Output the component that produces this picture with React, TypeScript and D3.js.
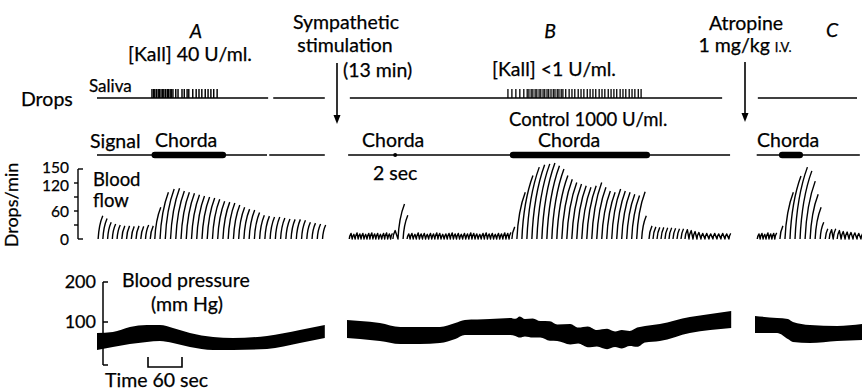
import React from 'react';
import * as d3 from 'd3';

const W = 862;
const H = 392;
const FONT = "Lato, 'Open Sans', sans-serif";

// ---- Records (time in s from the start of each record) ----
const recordA = { x0: 97, dur: 402 };
const recordB = { x0: 347, dur: 680 };
const recordC = { x0: 755, dur: 190 };

// Saliva drop times
const salivaA = [97, 100, 102, 105, 108, 110, 113, 116, 118, 121, 124, 126, 129, 131, 134, 139, 143, 150, 154, 159, 162, 169, 175, 180, 185, 191, 196, 201, 206, 212];
const salivaB = [284, 291, 298, 305, 312, 318, 321, 325, 328, 332, 335, 339, 342, 346, 349, 353, 356, 360, 364, 367, 371, 374, 378, 381, 386, 392, 397, 402, 408, 413, 418, 424, 429, 434, 439, 445, 450, 455, 461, 466, 471, 476, 482, 487, 492, 498, 503, 508, 514, 519];

// Chorda stimulation periods [start, end] (s)
const chordaA = [102, 222];
const chordaB = [293, 529];
const chordaBShort = 85;
const chordaC = [48, 79];

// Blood flow (drops/min), runs of evenly spaced drop-rate strokes
const flowA_rest = [50, 44, 36, 32, 30, 28, 28, 27, 28, 27, 30, 28];
const flowA_chorda = [68, 100, 107, 109, 103, 100, 98, 95, 92, 90, 88, 85, 81, 79, 77, 73, 68, 64, 62, 57, 51, 49, 47, 47, 45, 43, 42, 42, 40, 36, 34, 32, 30];
const flowB_rest1 = [12, 10, 13, 11, 12, 10, 12, 13, 11, 12, 10, 12, 13, 11, 12];
const flowB_short = [18, 75, 51];
const flowB_rest2 = [11, 12, 10, 13, 11, 12, 10, 12, 11, 13, 12, 10, 11, 12, 13, 11, 12, 10, 12, 11, 13, 12, 11, 10, 12, 13, 11, 12, 10, 12, 11, 13, 12, 14];
const flowB_chorda = [26, 100, 136, 154, 159, 161, 163, 157, 150, 136, 128, 121, 118, 114, 111, 114, 121, 111, 103, 100, 107, 103, 100, 96, 93, 101, 50];
const flowB_after = [28, 26, 25, 25, 24, 24, 23, 22, 22, 20, 18, 16, 14, 12, 12, 11, 12, 11, 12, 11, 12];
const flowC_rest = [11, 12, 10, 13, 11, 12, 13];
const flowC_chorda = [28, 100, 135, 154, 146, 124, 96, 68, 36];
const flowC_after = [22, 20, 22, 18, 16, 15, 14, 13, 12, 12];

// Blood pressure (mm Hg): sample times, systolic and diastolic
const bpA_t = [0, 28, 58, 88, 111, 134, 164, 205, 240, 300, 358, 402];
const bpA_sys = [72.5, 75, 87.5, 92.5, 92.5, 85, 72.5, 62.5, 60, 65, 80, 92.5];
const bpA_dia = [30, 37.5, 45, 50, 52.5, 47.5, 37.5, 30, 30, 32.5, 47.5, 60];
const bpB_t = [0, 23, 58, 94, 129, 164, 191, 208, 252, 288, 297, 305, 314, 328, 341, 358, 371, 394, 408, 425, 441, 459, 473, 485, 499, 512, 526, 552, 605, 641, 678];
const bpB_sys = [105, 102.5, 97.5, 87.5, 87.5, 87.5, 97.5, 105, 107.5, 110, 108, 114, 107.5, 109, 102.5, 102, 94, 95, 86, 89, 80, 83, 76, 80, 77.5, 86, 90, 95, 112.5, 120, 127.5];
const bpB_dia = [60, 57.5, 52.5, 45, 45, 47.5, 57.5, 67.5, 67.5, 67.5, 65, 61, 64, 61, 61, 53, 52.5, 44, 46, 37, 39, 32, 37.5, 34, 40, 38, 49, 52.5, 72.5, 80, 85];
const bpC_t = [0, 39, 58, 67, 97, 145, 189];
const bpC_sys = [115, 110, 107.5, 100, 92.5, 90, 95];
const bpC_dia = [72.5, 72.5, 57.5, 50, 47.5, 52.5, 55];

const flowTicks = [0, 30, 60, 90, 120, 150];
const flowTickLabels = [0, 60, 120, 150];
const bpTickLabels = [100, 200];

export default function App() {
  // 60 s of paper = 34 px
  const paper = d3.scaleLinear().domain([0, 60]).range([0, 34]);
  const xOf = (r: { x0: number; dur: number }) =>
    d3.scaleLinear().domain([0, r.dur]).range([r.x0, r.x0 + paper(r.dur)]);
  const xA = xOf(recordA);
  const xB = xOf(recordB);
  const xC = xOf(recordC);

  const yFlow = d3.scaleLinear().domain([0, 150]).range([239, 169]);
  const yBP = d3.scaleLinear().domain([0, 200]).range([362, 282]);

  const dropTop = 89;
  const dropBase = 98;
  const sigY = 155;

  // one run of drop-rate strokes spread evenly between t0 and t1
  const flowRun = (x: d3.ScaleLinear<number, number>, t0: number, t1: number, vals: number[]) => {
    const pos = d3.scaleLinear().domain([0, Math.max(1, vals.length - 1)]).range([x(t0), x(t1)]);
    const base = yFlow(0);
    let d = '';
    let prevH = 99;
    vals.forEach((v, i) => {
      const px = pos(i);
      const top = yFlow(v);
      const h = base - top;
      const s = h * 0.16 + 0.9;
      d += (i > 0 && prevH < 10 ? 'L' : 'M') + px.toFixed(2) + ',' + base.toFixed(2);
      d += 'Q' + (px + s * 0.15).toFixed(2) + ',' + (base - h * 0.6).toFixed(2) + ' ' + (px + s).toFixed(2) + ',' + top.toFixed(2);
      prevH = h;
    });
    return d;
  };

  const bpArea = (x: d3.ScaleLinear<number, number>, t: number[], sys: number[], dia: number[]) =>
    d3
      .area<number>()
      .x((i) => x(t[i]))
      .y0((i) => yBP(dia[i]))
      .y1((i) => yBP(sys[i]))
      .curve(d3.curveMonotoneX)(t.map((_, i) => i)) || '';

  const hline = (x: d3.ScaleLinear<number, number>, a: number, b: number, y: number, w = 1.3) => (
    <line x1={x(a)} x2={x(b)} y1={y} y2={y} stroke="#000" strokeWidth={w} />
  );

  const txt = { fontFamily: FONT, fontSize: 19.5, fill: '#000', stroke: '#000', strokeWidth: 0.25 } as const;

  // small nudges keep the crowded 150/120 labels apart
  const flowLabelNudge: Record<number, number> = { 150: -2, 120: 2, 60: 0, 0: 0 };

  return (
    <svg width={W} height={H} style={{ position: 'absolute', left: 0, top: 0, background: '#fff' }}>
      <rect width={W} height={H} fill="#fff" />

      {/* headings */}
      <text x={196} y={38} textAnchor="middle" {...txt} fontStyle="italic">A</text>
      <text x={190} y={61} textAnchor="middle" {...txt}>[Kall] 40 U/ml.</text>
      <text x={346} y={29} textAnchor="middle" {...txt}>Sympathetic</text>
      <text x={345} y={52} textAnchor="middle" {...txt}>stimulation</text>
      <text x={343} y={77} {...txt}>(13 min)</text>
      <text x={550} y={38} textAnchor="middle" {...txt} fontStyle="italic">B</text>
      <text x={554} y={76} textAnchor="middle" {...txt}>[Kall] &lt;1 U/ml.</text>
      <text x={746} y={30} textAnchor="middle" {...txt}>Atropine</text>
      <text x={745} y={52} textAnchor="middle" {...txt}>
        1 mg/kg <tspan fontSize={13}>I.V.</tspan>
      </text>
      <text x={832} y={37} textAnchor="middle" {...txt} fontStyle="italic">C</text>

      {/* arrows */}
      {[
        { x: 337, y0: 63, y1: 124 },
        { x: 745, y0: 62, y1: 122 },
      ].map((a, i) => (
        <g key={i}>
          <line x1={a.x} x2={a.x} y1={a.y0} y2={a.y1 - 6} stroke="#000" strokeWidth={1.6} />
          <path d={`M${a.x - 3.5},${a.y1 - 9}L${a.x + 3.5},${a.y1 - 9}L${a.x},${a.y1}Z`} fill="#000" />
        </g>
      ))}

      {/* saliva drops */}
      <text x={21} y={106} {...txt}>Drops</text>
      <text x={89} y={92} {...txt} fontSize={17}>Saliva</text>
      {hline(xA, 0, 302, dropBase)}
      {hline(xA, 311, 402, dropBase)}
      {hline(xB, 5, 662, dropBase)}
      {hline(xC, 5, 180, dropBase)}
      {salivaA.map((t, i) => (
        <line key={'sa' + i} x1={xA(t)} x2={xA(t)} y1={dropTop} y2={dropBase} stroke="#000" strokeWidth={1.45} />
      ))}
      {salivaB.map((t, i) => (
        <line key={'sb' + i} x1={xB(t)} x2={xB(t)} y1={dropTop} y2={dropBase} stroke="#000" strokeWidth={1.3} />
      ))}

      {/* signal */}
      <text x={90} y={148} {...txt}>Signal</text>
      <text x={155} y={147} {...txt}>Chorda</text>
      <text x={362} y={147} {...txt}>Chorda</text>
      <text x={373} y={180} {...txt}>2 sec</text>
      <text x={509} y={126} {...txt} fontSize={18.5}>Control 1000 U/ml.</text>
      <text x={538} y={147} {...txt}>Chorda</text>
      <text x={757} y={147} {...txt}>Chorda</text>
      {hline(xA, 0, 300, sigY)}
      {hline(xA, 304, 402, sigY)}
      {hline(xB, 2, 676, sigY)}
      {hline(xC, 3, 185, sigY)}
      {[
        { x: xA, s: chordaA },
        { x: xB, s: chordaB },
        { x: xC, s: chordaC },
      ].map((c, i) => (
        <line key={'ch' + i} x1={c.x(c.s[0])} x2={c.x(c.s[1])} y1={sigY} y2={sigY} stroke="#000" strokeWidth={6.5} strokeLinecap="round" />
      ))}
      <circle cx={xB(chordaBShort)} cy={sigY} r={2} fill="#000" />

      {/* blood flow axis */}
      <text transform="translate(18,205) rotate(-90)" textAnchor="middle" {...txt} fontSize={18}>Drops/min</text>
      <line x1={78} x2={78} y1={yFlow(150)} y2={yFlow(0)} stroke="#000" strokeWidth={1.4} />
      {flowTicks.map((v) => {
        const end = v === 0 || v === 150;
        return (
          <line key={'ft' + v} x1={end ? 78 : 74} x2={end ? 83 : 78} y1={yFlow(v)} y2={yFlow(v)} stroke="#000" strokeWidth={1.4} />
        );
      })}
      {flowTickLabels.map((v) => (
        <text key={'fl' + v} x={69} y={yFlow(v) + flowLabelNudge[v]} dy="0.36em" textAnchor="end" {...txt} fontSize={15.5}>{v}</text>
      ))}
      <text x={93} y={186} {...txt} fontSize={18.5}>Blood</text>
      <text x={93} y={207} {...txt} fontSize={18.5}>flow</text>

      {/* blood flow traces */}
      <g fill="none" stroke="#000" strokeWidth={1.4} strokeLinejoin="round">
        <path d={flowRun(xA, 2, 94, flowA_rest)} />
        <path d={flowRun(xA, 102, 398, flowA_chorda)} />
        <path d={flowRun(xB, 4, 77, flowB_rest1)} />
        <path d={flowRun(xB, 81, 99, flowB_short)} />
        <path d={flowRun(xB, 106, 286, flowB_rest2)} />
        <path d={flowRun(xB, 291, 520, flowB_chorda)} />
        <path d={flowRun(xB, 533, 674, flowB_after)} />
        <path d={flowRun(xC, 4, 35, flowC_rest)} />
        <path d={flowRun(xC, 44, 115, flowC_chorda)} />
        <path d={flowRun(xC, 124, 187, flowC_after)} />
      </g>

      {/* blood pressure */}
      <line x1={103} x2={103} y1={yBP(200)} y2={yBP(0) + 3} stroke="#000" strokeWidth={1.5} />
      <line x1={103} x2={108} y1={yBP(200)} y2={yBP(200)} stroke="#000" strokeWidth={1.5} />
      <line x1={103} x2={108} y1={yBP(100)} y2={yBP(100)} stroke="#000" strokeWidth={1.5} />
      <line x1={103} x2={108} y1={yBP(0) + 3} y2={yBP(0) + 3} stroke="#000" strokeWidth={1.5} />
      {bpTickLabels.map((v) => (
        <text key={'bl' + v} x={96} y={yBP(v)} dy="0.36em" textAnchor="end" {...txt} fontSize={18}>{v}</text>
      ))}
      <text x={122} y={287} {...txt}>Blood pressure</text>
      <text x={151} y={311} {...txt}>(mm Hg)</text>
      <path d={bpArea(xA, bpA_t, bpA_sys, bpA_dia)} fill="#000" />
      <path d={bpArea(xB, bpB_t, bpB_sys, bpB_dia)} fill="#000" />
      <path d={bpArea(xC, bpC_t, bpC_sys, bpC_dia)} fill="#000" />

      {/* time marker */}
      <path d={`M${xA(90)},357V367H${xA(150)}V357`} fill="none" stroke="#000" strokeWidth={1.6} />
      <text x={105} y={387} {...txt}>Time 60 sec</text>
    </svg>
  );
}
